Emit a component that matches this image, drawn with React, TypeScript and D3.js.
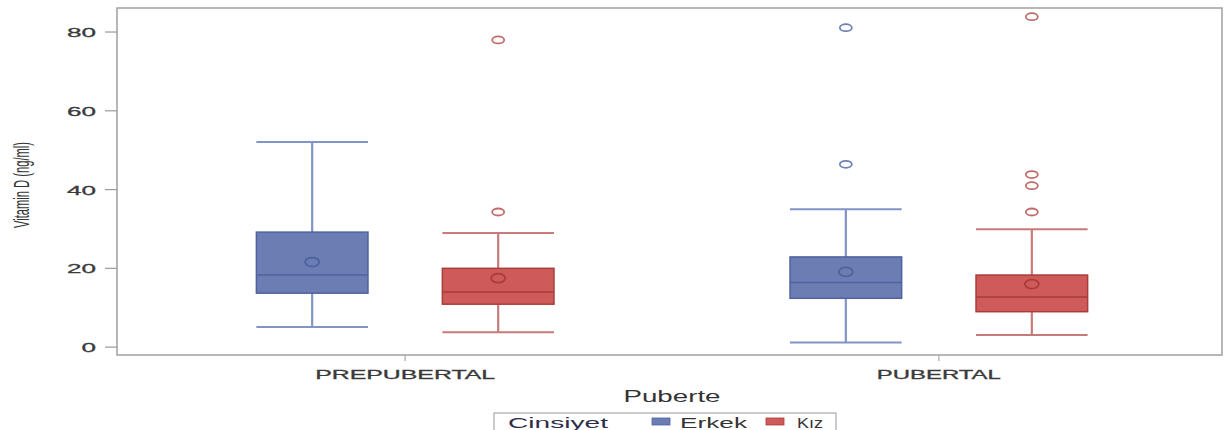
import React, { useEffect, useRef } from "react";
import * as d3 from "d3";

const categories = ["PREPUBERTAL", "PUBERTAL"];
const groups = ["Erkek", "Kız"];
const yTicks = [0, 20, 40, 60, 80];

// per series, one value per category
const erkekMin = [5.1, 1.2];
const erkekQ1 = [13.7, 12.4];
const erkekMedian = [18.3, 16.4];
const erkekQ3 = [29.2, 22.9];
const erkekMax = [52.1, 35.0];
const erkekMean = [21.6, 19.1];
const erkekOutliers = [[], [46.4, 81.1]];

const kizMin = [3.8, 3.1];
const kizQ1 = [10.9, 9.0];
const kizMedian = [14.0, 12.7];
const kizQ3 = [20.0, 18.3];
const kizMax = [29.0, 29.9];
const kizMean = [17.5, 16.0];
const kizOutliers = [[34.3, 78.0], [34.3, 41.0, 43.8, 83.9]];

const colors = {
  Erkek: { fill: "#6b7db3", stroke: "#4f62a0", whisker: "#8293c6", out: "#7080b8" },
  Kız: { fill: "#cf5a5a", stroke: "#aa3c3c", whisker: "#c87a7a", out: "#c26a6a" },
};

const App = () => {
  const svgRef = useRef<SVGSVGElement>(null);

  useEffect(() => {
    const width = 1229;
    const height = 430;
    const plot = { left: 117, right: 1222, top: 8, bottom: 355 };
    const font = "Liberation Sans, Arial, sans-serif";

    const svg = d3.select(svgRef.current).attr("width", width).attr("height", height);
    svg.selectAll("*").remove();

    const y = d3.scaleLinear().domain([-2, 86.1]).range([plot.bottom, plot.top]);
    const x = d3.scalePoint<string>().domain(categories).range([plot.left, 1227]).padding(0.54);
    const inner = d3.scaleBand<string>().domain(groups).range([-186, 186]);
    const boxW = inner.bandwidth() * 0.6;
    const capW = boxW / 2;

    const series = [
      { name: "Erkek", min: erkekMin, q1: erkekQ1, med: erkekMedian, q3: erkekQ3, max: erkekMax, mean: erkekMean, outliers: erkekOutliers },
      { name: "Kız", min: kizMin, q1: kizQ1, med: kizMedian, q3: kizQ3, max: kizMax, mean: kizMean, outliers: kizOutliers },
    ];

    // frame
    svg
      .append("rect")
      .attr("x", plot.left)
      .attr("y", plot.top)
      .attr("width", plot.right - plot.left)
      .attr("height", plot.bottom - plot.top)
      .attr("fill", "none")
      .attr("stroke", "#a0a0a0")
      .attr("stroke-width", 1.5);

    // y axis ticks
    yTicks.forEach((t) => {
      svg
        .append("line")
        .attr("x1", plot.left - 12)
        .attr("x2", plot.left)
        .attr("y1", y(t))
        .attr("y2", y(t))
        .attr("stroke", "#999")
        .attr("stroke-width", 1.2);
      svg
        .append("text")
        .attr("x", plot.left - 21)
        .attr("y", y(t) + 5)
        .attr("text-anchor", "end")
        .attr("font-family", font)
        .attr("font-size", 13)
        .attr("fill", "#3a3a3a")
        .attr("stroke", "#3a3a3a")
        .attr("stroke-width", 0.3)
        .attr("textLength", String(t).length * 14.5)
        .attr("lengthAdjust", "spacingAndGlyphs")
        .text(t);
    });

    svg
      .append("text")
      .attr("transform", `translate(29,185) scale(1.7,1) rotate(-90)`)
      .attr("text-anchor", "middle")
      .attr("font-family", font)
      .attr("font-size", 12.5)
      .attr("fill", "#333")
      .attr("textLength", 86)
      .attr("lengthAdjust", "spacingAndGlyphs")
      .text("Vitamin D (ng/ml)");

    // x axis ticks and labels
    const labelLen: Record<string, number> = { PREPUBERTAL: 180, PUBERTAL: 124 };
    categories.forEach((c) => {
      svg
        .append("line")
        .attr("x1", x(c)!)
        .attr("x2", x(c)!)
        .attr("y1", plot.bottom)
        .attr("y2", plot.bottom + 6)
        .attr("stroke", "#aaa")
        .attr("stroke-width", 1.2);
      svg
        .append("text")
        .attr("x", x(c)!)
        .attr("y", 379)
        .attr("text-anchor", "middle")
        .attr("font-family", font)
        .attr("font-size", 13)
        .attr("fill", "#3a3a3a")
        .attr("stroke", "#3a3a3a")
        .attr("stroke-width", 0.3)
        .attr("textLength", labelLen[c])
        .attr("lengthAdjust", "spacingAndGlyphs")
        .text(c);
    });

    svg
      .append("text")
      .attr("x", 672)
      .attr("y", 402)
      .attr("text-anchor", "middle")
      .attr("font-family", font)
      .attr("font-size", 16)
      .attr("fill", "#333")
      .attr("textLength", 97)
      .attr("lengthAdjust", "spacingAndGlyphs")
      .text("Puberte");

    // boxes
    series.forEach((s) => {
      const col = colors[s.name as keyof typeof colors];
      categories.forEach((c, i) => {
        const cx = x(c)! + inner(s.name)! + inner.bandwidth() / 2;
        const g = svg.append("g");

        // whiskers
        g.append("line")
          .attr("x1", cx).attr("x2", cx)
          .attr("y1", y(s.q3[i])).attr("y2", y(s.max[i]))
          .attr("stroke", col.whisker).attr("stroke-width", 2.2);
        g.append("line")
          .attr("x1", cx).attr("x2", cx)
          .attr("y1", y(s.q1[i])).attr("y2", y(s.min[i]))
          .attr("stroke", col.whisker).attr("stroke-width", 2.2);
        [s.max[i], s.min[i]].forEach((v) => {
          g.append("line")
            .attr("x1", cx - capW).attr("x2", cx + capW)
            .attr("y1", y(v)).attr("y2", y(v))
            .attr("stroke", col.whisker).attr("stroke-width", 2);
        });

        // box
        g.append("rect")
          .attr("x", cx - boxW / 2)
          .attr("y", y(s.q3[i]))
          .attr("width", boxW)
          .attr("height", y(s.q1[i]) - y(s.q3[i]))
          .attr("fill", col.fill)
          .attr("stroke", col.stroke)
          .attr("stroke-width", 1.5);
        g.append("line")
          .attr("x1", cx - boxW / 2).attr("x2", cx + boxW / 2)
          .attr("y1", y(s.med[i])).attr("y2", y(s.med[i]))
          .attr("stroke", col.stroke).attr("stroke-width", 1.5);

        // mean
        g.append("ellipse")
          .attr("cx", cx).attr("cy", y(s.mean[i]))
          .attr("rx", 7).attr("ry", 4.5)
          .attr("fill", "none").attr("stroke", col.stroke).attr("stroke-width", 1.8);

        // outliers
        s.outliers[i].forEach((v) => {
          g.append("ellipse")
            .attr("cx", cx).attr("cy", y(v))
            .attr("rx", 6).attr("ry", 3.5)
            .attr("fill", "none").attr("stroke", col.out).attr("stroke-width", 1.8);
        });
      });
    });

    // legend
    const lg = svg.append("g");
    lg.append("rect")
      .attr("x", 494).attr("y", 413)
      .attr("width", 342).attr("height", 30)
      .attr("fill", "white").attr("stroke", "#aaa").attr("stroke-width", 1.2);
    lg.append("text")
      .attr("x", 508).attr("y", 428)
      .attr("font-family", font).attr("font-size", 15).attr("fill", "#2e2e48")
      .attr("textLength", 100).attr("lengthAdjust", "spacingAndGlyphs")
      .text("Cinsiyet");
    const items = [
      { name: "Erkek", sx: 652, tx: 680, len: 67 },
      { name: "Kız", sx: 766, tx: 797, len: 26 },
    ];
    items.forEach((it) => {
      const col = colors[it.name as keyof typeof colors];
      lg.append("rect")
        .attr("x", it.sx).attr("y", 418)
        .attr("width", 18).attr("height", 7)
        .attr("fill", col.fill).attr("stroke", col.stroke).attr("stroke-width", 0.8);
      lg.append("text")
        .attr("x", it.tx).attr("y", 428)
        .attr("font-family", font).attr("font-size", 15).attr("fill", "#333")
        .attr("textLength", it.len).attr("lengthAdjust", "spacingAndGlyphs")
        .text(it.name);
    });
  }, []);

  return (
    <svg ref={svgRef} style={{ position: "absolute", left: 0, top: 0 }}></svg>
  );
};

export default App;
